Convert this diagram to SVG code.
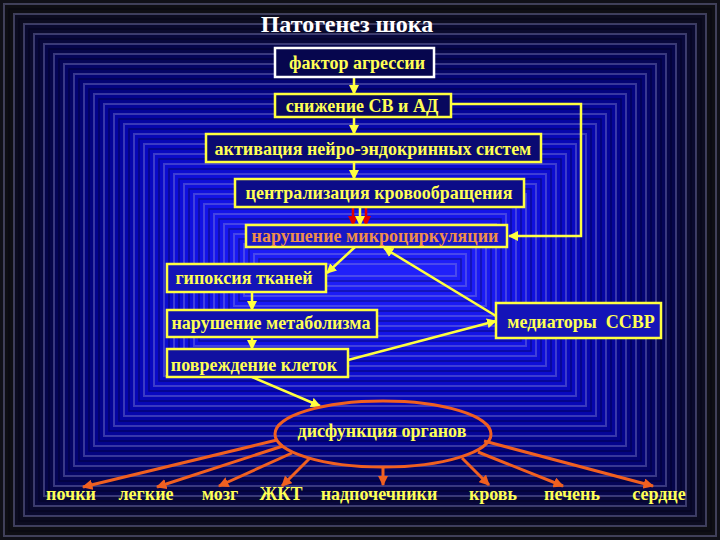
<svg xmlns="http://www.w3.org/2000/svg" width="720" height="540" viewBox="0 0 720 540">
<style>
.bg rect{stroke:#9a9ad8;stroke-opacity:0.35;stroke-width:2}
.bg2 rect{fill:none;stroke:#000010;stroke-opacity:0.35;stroke-width:1.5}
.box{stroke:#ffff40;stroke-width:2.5}
.t{font-family:"Liberation Serif","DejaVu Serif",serif;font-weight:bold;font-size:18px;fill:#ffff55}
.o{font-family:"Liberation Serif","DejaVu Serif",serif;font-weight:bold;font-size:18px;fill:#ffff55}
.y{stroke:#ffff40;stroke-width:2.5;fill:none}
.r{stroke:#f06020;stroke-width:3;fill:none}
</style>
<defs>
<marker id="ay" viewBox="0 0 10 10" refX="9" refY="5" markerWidth="4" markerHeight="4" orient="auto" markerUnits="strokeWidth"><path d="M0,0L10,5L0,10z" fill="#ffff40"/></marker>
<marker id="ar" viewBox="0 0 10 10" refX="9" refY="5" markerWidth="3.5" markerHeight="3.5" orient="auto" markerUnits="strokeWidth"><path d="M0,0L10,5L0,10z" fill="#f06020"/></marker>
<marker id="ad" viewBox="0 0 10 10" refX="9" refY="5" markerWidth="4" markerHeight="4" orient="auto" markerUnits="strokeWidth"><path d="M0,0L10,5L0,10z" fill="#e00000"/></marker>
</defs>
<rect width="720" height="540" fill="#101018"/>
<g class="bg">
<rect x="4" y="4" width="712" height="532" fill="#0e0e14"/>
<rect x="14" y="14" width="692" height="512" fill="#0c0c20"/>
<rect x="24" y="24" width="672" height="492" fill="#0a0a2e"/>
<rect x="34" y="34" width="652" height="472" fill="#08083c"/>
<rect x="44" y="44" width="632" height="452" fill="#06064a"/>
<rect x="54" y="54" width="612" height="432" fill="#050558"/>
<rect x="64" y="64" width="592" height="412" fill="#040466"/>
<rect x="74" y="74" width="572" height="392" fill="#030374"/>
<rect x="84" y="84" width="552" height="372" fill="#030380"/>
<rect x="94" y="94" width="532" height="352" fill="#03038c"/>
<rect x="104" y="104" width="512" height="332" fill="#040498"/>
<rect x="114" y="114" width="492" height="312" fill="#0505a2"/>
<rect x="124" y="124" width="472" height="292" fill="#0606ac"/>
<rect x="134" y="134" width="452" height="272" fill="#0707b6"/>
<rect x="144" y="144" width="432" height="252" fill="#0808c0"/>
<rect x="154" y="154" width="412" height="232" fill="#0a0ac8"/>
<rect x="164" y="164" width="392" height="212" fill="#0c0cd0"/>
<rect x="174" y="174" width="372" height="192" fill="#0e0ed8"/>
<rect x="184" y="184" width="352" height="172" fill="#1010de"/>
<rect x="194" y="194" width="332" height="152" fill="#1212e4"/>
<rect x="204" y="204" width="312" height="132" fill="#1414e8"/>
<rect x="214" y="214" width="292" height="112" fill="#1616ec"/>
<rect x="224" y="224" width="272" height="92" fill="#1818f0"/>
<rect x="234" y="234" width="252" height="72" fill="#1a1af4"/>
<rect x="244" y="244" width="232" height="52" fill="#1c1cf6"/>
<rect x="254" y="254" width="212" height="32" fill="#1e1ef8"/>
<rect x="264" y="264" width="192" height="12" fill="#2020fa"/>
</g>
<g class="bg2">
<rect x="9" y="9" width="702" height="522"/>
<rect x="19" y="19" width="682" height="502"/>
<rect x="29" y="29" width="662" height="482"/>
<rect x="39" y="39" width="642" height="462"/>
<rect x="49" y="49" width="622" height="442"/>
<rect x="59" y="59" width="602" height="422"/>
<rect x="69" y="69" width="582" height="402"/>
<rect x="79" y="79" width="562" height="382"/>
<rect x="89" y="89" width="542" height="362"/>
<rect x="99" y="99" width="522" height="342"/>
<rect x="109" y="109" width="502" height="322"/>
<rect x="119" y="119" width="482" height="302"/>
<rect x="129" y="129" width="462" height="282"/>
<rect x="139" y="139" width="442" height="262"/>
<rect x="149" y="149" width="422" height="242"/>
<rect x="159" y="159" width="402" height="222"/>
<rect x="169" y="169" width="382" height="202"/>
<rect x="179" y="179" width="362" height="182"/>
<rect x="189" y="189" width="342" height="162"/>
<rect x="199" y="199" width="322" height="142"/>
<rect x="209" y="209" width="302" height="122"/>
<rect x="219" y="219" width="282" height="102"/>
<rect x="229" y="229" width="262" height="82"/>
<rect x="239" y="239" width="242" height="62"/>
<rect x="249" y="249" width="222" height="42"/>
<rect x="259" y="259" width="202" height="22"/>
</g>
<text x="347" y="32" text-anchor="middle" font-family="Liberation Serif, DejaVu Serif, serif" font-weight="bold" font-size="24" fill="#ffffff">Патогенез шока</text>
<g id="connectors">
<line class="y" x1="354" y1="77" x2="354" y2="94" marker-end="url(#ay)"/>
<line class="y" x1="354" y1="117" x2="354" y2="134" marker-end="url(#ay)"/>
<line class="y" x1="354" y1="162" x2="354" y2="179" marker-end="url(#ay)"/>
<line x1="353" y1="207" x2="353" y2="225" stroke="#e00000" stroke-width="2.5" marker-end="url(#ad)"/>
<line x1="366" y1="207" x2="366" y2="225" stroke="#e00000" stroke-width="2.5" marker-end="url(#ad)"/>
<line class="y" x1="360" y1="207" x2="360" y2="225" marker-end="url(#ay)"/>
<polyline class="y" points="451,104 581,104 581,236 509,236" marker-end="url(#ay)"/>
<line class="y" x1="355" y1="247" x2="327" y2="273" marker-end="url(#ay)"/>
<line class="y" x1="496" y1="316" x2="384" y2="248" marker-end="url(#ay)"/>
<line class="y" x1="252" y1="292" x2="252" y2="310" marker-end="url(#ay)"/>
<line class="y" x1="252" y1="337" x2="252" y2="349" marker-end="url(#ay)"/>
<line class="y" x1="348" y1="360" x2="496" y2="321" marker-end="url(#ay)"/>
<line class="y" x1="252" y1="377" x2="320" y2="406" marker-end="url(#ay)"/>
<line class="r" x1="277" y1="440" x2="83" y2="487" marker-end="url(#ar)"/>
<line class="r" x1="283" y1="446" x2="157" y2="487" marker-end="url(#ar)"/>
<line class="r" x1="292" y1="453" x2="219" y2="486" marker-end="url(#ar)"/>
<line class="r" x1="310" y1="458" x2="282" y2="486" marker-end="url(#ar)"/>
<line class="r" x1="383" y1="467" x2="383" y2="485" marker-end="url(#ar)"/>
<line class="r" x1="462" y1="458" x2="489" y2="485" marker-end="url(#ar)"/>
<line class="r" x1="478" y1="452" x2="563" y2="486" marker-end="url(#ar)"/>
<line class="r" x1="484" y1="441" x2="653" y2="486" marker-end="url(#ar)"/>
</g>
<g id="n1"><rect x="275" y="48" width="159" height="29" fill="#06064e" stroke="#ffffff" stroke-width="2.5"/><text class="t" x="357" y="69" text-anchor="middle">фактор агрессии</text></g>
<g id="n2"><rect class="box" x="275" y="94" width="176" height="23" fill="#08085e"/><text class="t" x="362" y="112" text-anchor="middle">снижение СВ и АД</text></g>
<g id="n3"><rect class="box" x="206" y="134" width="335" height="28" fill="#0a0a72"/><text class="t" x="373" y="155" text-anchor="middle">активация нейро-эндокринных систем</text></g>
<g id="n4"><rect class="box" x="235" y="179" width="289" height="28" fill="#0c0c88"/><text class="t" x="379" y="199" text-anchor="middle">централизация кровообращения</text></g>
<g id="n5"><rect class="box" x="246" y="225" width="261" height="22" fill="#1818c4"/><text x="375" y="242" text-anchor="middle" font-family="Liberation Serif, DejaVu Serif, serif" font-weight="bold" font-size="18" fill="#f0904a">нарушение микроциркуляции</text></g>
<g id="n6"><rect class="box" x="167" y="264" width="159" height="28" fill="#1414b8"/><text class="t" x="244" y="284" text-anchor="middle">гипоксия тканей</text></g>
<g id="n7"><rect class="box" x="167" y="310" width="210" height="27" fill="#1212ac"/><text class="t" x="271" y="329" text-anchor="middle">нарушение метаболизма</text></g>
<g id="n8"><rect class="box" x="167" y="349" width="181" height="28" fill="#1010a0"/><text class="t" x="254" y="371" text-anchor="middle">повреждение клеток</text></g>
<g id="n9"><rect class="box" x="496" y="303" width="165" height="35" fill="#1414b8"/><text class="t" x="581" y="328" text-anchor="middle">медиаторы&#160; ССВР</text></g>
<g id="n10"><ellipse cx="383" cy="434" rx="108" ry="33" fill="none" stroke="#f06020" stroke-width="3"/><text class="t" x="382" y="437" text-anchor="middle">дисфункция органов</text></g>
<g id="labels">
<text class="o" x="71" y="500" text-anchor="middle">почки</text>
<text class="o" x="146" y="500" text-anchor="middle">легкие</text>
<text class="o" x="220" y="500" text-anchor="middle">мозг</text>
<text class="o" x="281" y="500" text-anchor="middle">ЖКТ</text>
<text class="o" x="379" y="500" text-anchor="middle">надпочечники</text>
<text class="o" x="493" y="500" text-anchor="middle">кровь</text>
<text class="o" x="572" y="500" text-anchor="middle">печень</text>
<text class="o" x="659" y="500" text-anchor="middle">сердце</text>
</g>
</svg>
